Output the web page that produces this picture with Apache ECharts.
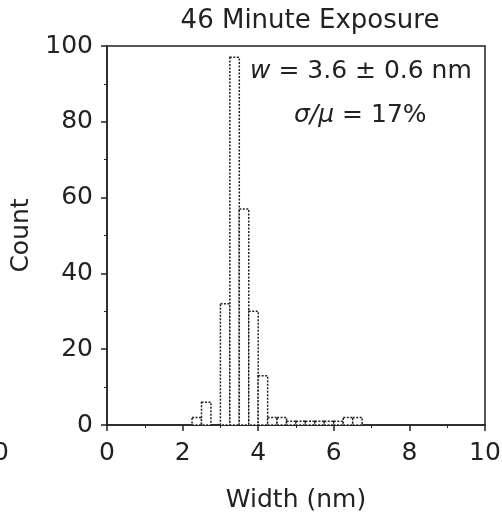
<!DOCTYPE html>
<html>
<head>
<meta charset="utf-8">
<script src="https://cdn.jsdelivr.net/npm/echarts@6/dist/echarts.min.js"></script>
<style>
  html, body { margin: 0; padding: 0; background: #fff; }
  #chart { width: 502px; height: 512px; }
</style>
</head>
<body>
<div id="chart"></div>
<script>
// histogram bins (nm) and counts
var binStarts = [2.25, 2.5, 3.0, 3.25, 3.5, 3.75, 4.0, 4.25, 4.5, 4.75, 5.0, 5.25, 5.5, 5.75, 6.0, 6.25, 6.5];
var binEnds   = [2.5, 2.75, 3.25, 3.5, 3.75, 4.0, 4.25, 4.5, 4.75, 5.0, 5.25, 5.5, 5.75, 6.0, 6.25, 6.5, 6.75];
var counts    = [2, 6, 32, 97, 57, 30, 13, 2, 2, 1, 1, 1, 1, 1, 1, 2, 2];
var xTicks = [0, 2, 4, 6, 8, 10];
var yTicks = [0, 20, 40, 60, 80, 100];

var font = 'DejaVu Sans, sans-serif';
var ink = '#222';
var fs = 25;

var chart = echarts.init(document.getElementById('chart'));
var data = binStarts.map(function (s, i) {
    return [s, binEnds[i], counts[i]];
});

var option = {
    backgroundColor: '#fff',
    animation: false,
    title: {
        text: '46 Minute Exposure',
        left: 305,
        textAlign: 'center',
        top: 3,
        textStyle: { fontFamily: font, fontSize: 26, fontWeight: 'normal', color: ink },
    },
    grid: {
        left: 107,
        right: 17,
        top: 46,
        bottom: 87,
        show: true,
        borderColor: ink,
        borderWidth: 1.5,
        outerBoundsMode: 'none',
        containLabel: false,
    },
    xAxis: {
        type: 'value',
        min: xTicks[0],
        max: xTicks[xTicks.length - 1],
        interval: 2,
        name: 'Width (nm)',
        nameLocation: 'middle',
        nameGap: 63,
        nameTextStyle: { fontFamily: font, fontSize: fs, color: ink },
        axisLine: { lineStyle: { color: ink, width: 1.5 } },
        axisTick: { show: true, length: 6, lineStyle: { color: ink, width: 1.5 } },
        minorTick: { show: true, splitNumber: 2, length: 3, lineStyle: { color: ink } },
        axisLabel: { fontFamily: font, fontSize: fs, color: ink, margin: 16 },
        splitLine: { show: false },
    },
    yAxis: {
        type: 'value',
        min: yTicks[0],
        max: yTicks[yTicks.length - 1],
        interval: 20,
        name: 'Count',
        nameLocation: 'middle',
        nameGap: 71,
        nameTextStyle: { fontFamily: font, fontSize: fs, color: ink },
        axisLine: { show: true, lineStyle: { color: ink, width: 1.5 } },
        axisTick: { show: true, length: 6, lineStyle: { color: ink, width: 1.5 } },
        minorTick: { show: true, splitNumber: 2, length: 3, lineStyle: { color: ink } },
        axisLabel: { fontFamily: font, fontSize: fs, color: ink, margin: 14 },
        splitLine: { show: false },
    },
    graphic: [
        {
            type: 'text',
            left: 250,
            top: 59,
            style: {
                text: '{i|w} = 3.6 ± 0.6 nm',
                font: fs + 'px ' + font,
                fill: ink,
                rich: { i: { fontStyle: 'italic', fontSize: fs, fontFamily: font, fill: ink } },
            },
        },
        {
            type: 'text',
            left: 294,
            top: 103,
            style: {
                text: '{i|σ/μ} = 17%',
                font: fs + 'px ' + font,
                fill: ink,
                rich: { i: { fontStyle: 'italic', fontSize: fs, fontFamily: font, fill: ink } },
            },
        },
        {
            // edge of the neighbouring panel's "10" label, cut by the crop
            type: 'text',
            right: 493,
            top: 441,
            style: { text: '10', font: fs + 'px ' + font, fill: ink },
        },
    ],
    series: [
        {
            type: 'custom',
            data: data,
            encode: { x: [0, 1], y: 2 },
            renderItem: function (params, api) {
                var top = api.coord([api.value(0), api.value(2)]);
                var bottom = api.coord([api.value(1), 0]);
                return {
                    type: 'rect',
                    shape: { x: top[0], y: top[1], width: bottom[0] - top[0], height: bottom[1] - top[1] },
                    style: { fill: '#fff', stroke: ink, lineWidth: 1.5, lineDash: [2, 1.5] },
                };
            },
        },
    ],
};
chart.setOption(option);
</script>
</body>
</html>
